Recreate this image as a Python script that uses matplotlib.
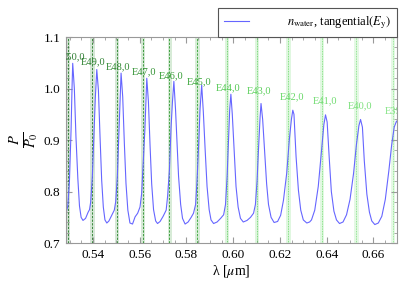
import matplotlib
matplotlib.use("Agg")
import matplotlib.pyplot as plt
from matplotlib.ticker import MultipleLocator, FormatStrFormatter

plt.rcParams['font.family'] = 'serif'
plt.rcParams['font.serif'] = ['Liberation Serif', 'DejaVu Serif']
plt.rcParams['mathtext.fontset'] = 'stix'

## transmitted power
wavelength = [
    0.5284, 0.5292, 0.5299, 0.5306, 0.5310, 0.5313, 0.5320, 0.5327, 0.5335, 0.5342,
    0.5349, 0.5357, 0.5368, 0.5379, 0.5385, 0.5390, 0.5397, 0.5404, 0.5410, 0.5416,
    0.5423, 0.5430, 0.5437, 0.5444, 0.5451, 0.5459, 0.5468, 0.5480, 0.5491, 0.5497,
    0.5504, 0.5511, 0.5520,
    0.5527, 0.5534, 0.5541, 0.5549, 0.5558, 0.5569, 0.5580, 0.5591, 0.5601, 0.5608,
    0.5615, 0.5622, 0.5630,
    0.5637, 0.5644, 0.5651, 0.5659, 0.5668, 0.5676, 0.5687, 0.5700, 0.5713, 0.5719,
    0.5727, 0.5734, 0.5740, 0.5746,
    0.5753, 0.5760, 0.5766, 0.5775, 0.5783, 0.5794, 0.5807, 0.5820, 0.5830, 0.5839,
    0.5845, 0.5852, 0.5858, 0.5865,
    0.5872, 0.5880, 0.5888, 0.5897, 0.5905, 0.5916, 0.5931, 0.5946, 0.5959, 0.5967,
    0.5974, 0.5980, 0.5985, 0.5990,
    0.5996, 0.6004, 0.6012, 0.6021, 0.6031, 0.6043, 0.6059, 0.6074, 0.6087, 0.6095,
    0.6102, 0.6108, 0.6115, 0.6119,
    0.6126, 0.6134, 0.6143, 0.6151, 0.6162, 0.6175, 0.6190, 0.6203, 0.6215, 0.6229,
    0.6240, 0.6249, 0.6255,
    0.6260, 0.6269, 0.6279, 0.6289, 0.6300, 0.6315, 0.6327, 0.6335, 0.6349, 0.6364,
    0.6378, 0.6388, 0.6395,
    0.6402, 0.6411, 0.6420, 0.6431, 0.6442, 0.6455, 0.6470, 0.6485, 0.6500, 0.6515,
    0.6527, 0.6538, 0.6545,
    0.6553, 0.6561, 0.6572, 0.6583, 0.6593, 0.6606, 0.6621, 0.6636, 0.6651, 0.6666,
    0.6678, 0.6689, 0.6699, 0.6702,
]
power = [
    0.758, 0.772, 0.820, 0.920, 1.000, 1.049, 1.000, 0.905, 0.825, 0.772,
    0.750, 0.744, 0.748, 0.760, 0.765, 0.780, 0.829, 0.913, 0.984, 1.037,
    0.997, 0.906, 0.822, 0.770, 0.745, 0.739, 0.743, 0.754, 0.764, 0.780,
    0.829, 0.915, 1.030,
    0.984, 0.894, 0.816, 0.764, 0.739, 0.737, 0.751, 0.758, 0.770, 0.796,
    0.858, 0.921, 1.020,
    0.975, 0.890, 0.815, 0.765, 0.743, 0.738, 0.742, 0.752, 0.764, 0.790,
    0.842, 0.925, 0.975, 1.014,
    0.960, 0.890, 0.830, 0.775, 0.748, 0.737, 0.741, 0.750, 0.758, 0.775,
    0.820, 0.890, 0.960, 1.007,
    0.955, 0.880, 0.810, 0.765, 0.745, 0.738, 0.741, 0.748, 0.755, 0.775,
    0.830, 0.900, 0.960, 0.989,
    0.950, 0.880, 0.810, 0.770, 0.748, 0.741, 0.744, 0.750, 0.758, 0.775,
    0.820, 0.880, 0.945, 0.971,
    0.940, 0.880, 0.815, 0.775, 0.750, 0.740, 0.742, 0.754, 0.783, 0.836,
    0.900, 0.940, 0.958,
    0.950, 0.868, 0.803, 0.764, 0.745, 0.739, 0.741, 0.745, 0.764, 0.810,
    0.880, 0.930, 0.949,
    0.935, 0.865, 0.800, 0.762, 0.745, 0.738, 0.741, 0.755, 0.785, 0.835,
    0.890, 0.928, 0.940,
    0.925, 0.860, 0.795, 0.760, 0.743, 0.736, 0.739, 0.752, 0.785, 0.840,
    0.890, 0.925, 0.937, 0.935,
]

## whispering gallery mode positions and labels
mode_names = ["E50,0", "E49,0", "E48,0", "E47,0", "E46,0", "E45,0",
              "E44,0", "E43,0", "E42,0", "E41,0", "E40,0", "E39,0"]
mode_lambda = [0.5292, 0.5397, 0.5501, 0.5613, 0.5727, 0.5845,
               0.5972, 0.6101, 0.6236, 0.6379, 0.6526, 0.6683]
label_lambda = [0.5313, 0.5399, 0.5508, 0.5618, 0.5733, 0.5854,
                0.5979, 0.6112, 0.6251, 0.6393, 0.6543, 0.6700]
label_height = [1.061, 1.052, 1.042, 1.033, 1.024, 1.014,
                1.002, 0.996, 0.984, 0.976, 0.966, 0.956]
mode_colors = ['#2e7d32', '#2f8232', '#318a33', '#339334', '#379d37', '#3da83d',
               '#52c852', '#5cd05c', '#66d866', '#70dc70', '#7ae07a', '#84e484']

fig = plt.figure(figsize=(4.07, 2.85), dpi=100)
ax = fig.add_axes([0.162, 0.147, 0.814, 0.723])

for i in range(len(mode_lambda)):
    c = mode_colors[i]
    ax.axvspan(mode_lambda[i] - 0.0008, mode_lambda[i] + 0.0011, color=c, alpha=0.2, lw=0)
    if i < 6:
        ax.axvline(mode_lambda[i], color=c, lw=0.65, ls=(0, (2.5, 1.5)))
    else:
        ax.axvline(mode_lambda[i], color=c, lw=0.6, ls=(0, (1, 1)))
    ax.text(label_lambda[i], label_height[i], mode_names[i], color=c, fontsize=7.5,
            ha='center', va='center', clip_on=True)

ax.plot(wavelength, power, color='#6666ff', lw=0.8,
        label=r"$n_{\rm water}$, tangential$(E_{\rm y})$")

ax.set_xlim(0.5284, 0.6702)
ax.set_ylim(0.7, 1.1)
ax.xaxis.set_major_locator(MultipleLocator(0.02))
ax.xaxis.set_minor_locator(MultipleLocator(0.005))
ax.yaxis.set_major_locator(MultipleLocator(0.1))
ax.yaxis.set_minor_locator(MultipleLocator(0.02))
ax.xaxis.set_major_formatter(FormatStrFormatter('%.2f'))
ax.yaxis.set_major_formatter(FormatStrFormatter('%.1f'))
ax.tick_params(which='both', direction='in', top=True, right=True, color='#999999',
               labelsize=9.5, pad=4)
ax.tick_params(which='major', length=4)
ax.tick_params(which='minor', length=2)
for s in ax.spines.values():
    s.set_color('#999999')
    s.set_linewidth(0.8)

ax.set_xlabel(r"λ [$\mu$m]", fontsize=10, labelpad=2)
ax.set_ylabel(r"$\frac{P}{P_0}$", fontsize=15, labelpad=2)

leg = ax.legend(loc='lower right', bbox_to_anchor=(1.0, 1.0), borderaxespad=0,
                fancybox=False, fontsize=9, handlelength=2.0, handletextpad=3.0,
                borderpad=0.5, framealpha=1)
leg.get_frame().set_edgecolor('#555555')
leg.get_frame().set_linewidth(0.8)

fig.savefig("out.png", dpi=100)
